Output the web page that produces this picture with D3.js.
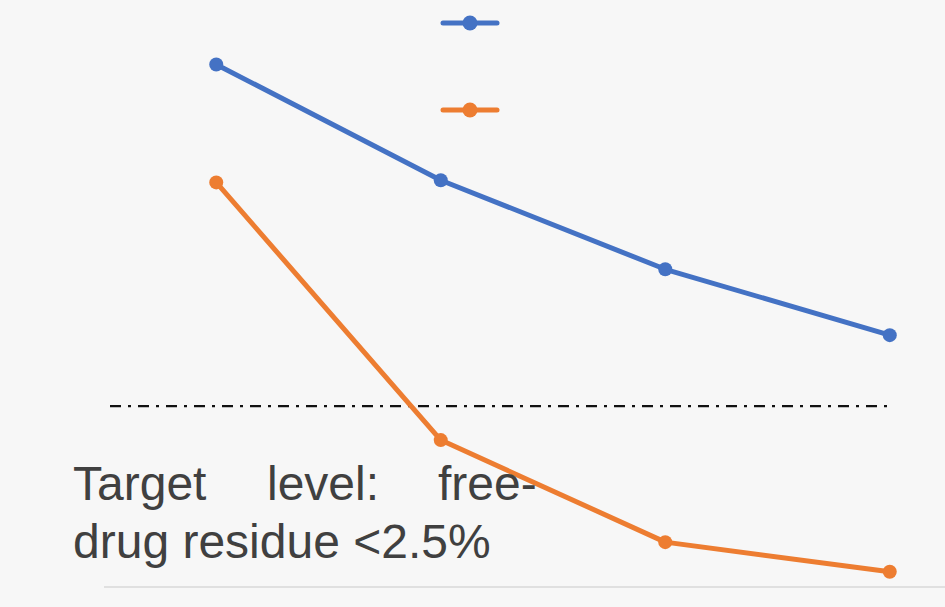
<!DOCTYPE html>
<html lang="en">
<head>
<meta charset="utf-8">
<title>Chart</title>
<script type="text/javascript" src="https://d3js.org/d3.v7.min.js"></script>
<style>
body { margin: 0; background: #f7f7f7; }
svg { display: block; font-family: "Liberation Sans", Arial, sans-serif; }
</style>
</head>
<body>
<div id="d3-container"></div>
<script type="text/javascript">

// data (values in %)
var categories = ["1", "2", "3", "4"];
var seriesA = [7.22, 5.62, 4.39, 3.48];
var seriesB = [5.59, 2.03, 0.62, 0.21];
var target = 2.5;
var noteWords = ["Target", "level:", "free-"];
var noteLine2 = "drug residue <2.5%";

var w = 945, h = 607;
var blue = "#4472c4", orange = "#ed7d31";

var svg = d3.select("div#d3-container")
            .append("svg")
            .attr("width", w)
            .attr("height", h);

svg.append("rect").attr("width", w).attr("height", h).attr("fill", "#f7f7f7");

// x: the plot runs past the right edge, so only the first bands show
var x = d3.scaleBand().domain(categories).range([104, 1002]).padding(0);
var y = d3.scaleLinear().domain([0, 8]).range([587, 8]);

// category axis line
svg.append("line")
   .attr("x1", x.range()[0]).attr("x2", w)
   .attr("y1", y(0)).attr("y2", y(0))
   .attr("stroke", "#d9d9d9").attr("stroke-width", 1.5);

// target line
svg.append("line")
   .attr("x1", 110).attr("x2", 893)
   .attr("y1", y(target)).attr("y2", y(target))
   .attr("stroke", "#111").attr("stroke-width", 2.2)
   .attr("stroke-dasharray", "11,7,3,7");

var line = d3.line()
    .x(function(d, i) { return x(categories[i]) + x.bandwidth() / 2; })
    .y(function(d) { return y(d); });

[[seriesA, blue], [seriesB, orange]].forEach(function(s) {
  svg.append("path")
     .datum(s[0])
     .attr("d", line)
     .attr("fill", "none")
     .attr("stroke", s[1])
     .attr("stroke-width", 5)
     .attr("stroke-linejoin", "round");
  svg.selectAll(null)
     .data(s[0])
     .enter()
     .append("circle")
     .attr("cx", function(d, i) { return x(categories[i]) + x.bandwidth() / 2; })
     .attr("cy", function(d) { return y(d); })
     .attr("r", 7)
     .attr("fill", s[1]);
});

// legend (markers only)
[[23, blue], [110, orange]].forEach(function(l) {
  var g = svg.append("g").attr("transform", "translate(470," + l[0] + ")");
  g.append("line").attr("x1", -27).attr("x2", 27)
   .attr("stroke", l[1]).attr("stroke-width", 5).attr("stroke-linecap", "round");
  g.append("circle").attr("r", 7.5).attr("fill", l[1]);
});

// note text, justified first line
var note = svg.append("text")
   .attr("font-size", 48)
   .attr("fill", "#404040");
var wordX = [73, 267, 438];
noteWords.forEach(function(wd, i) {
  note.append("tspan").attr("x", wordX[i]).attr("y", 500).text(wd);
});
note.append("tspan").attr("x", 73).attr("y", 558).text(noteLine2);

</script>
</body>
</html>
